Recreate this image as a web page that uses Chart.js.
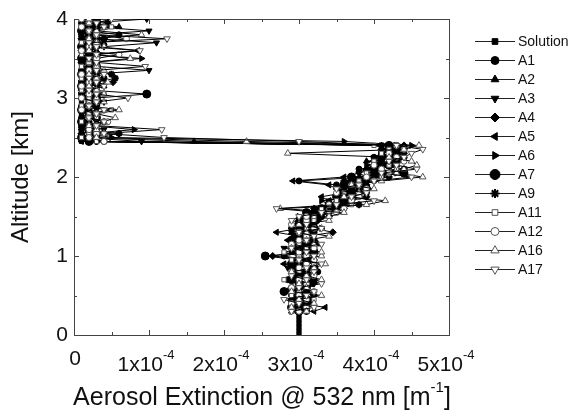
<!DOCTYPE html>
<html>
<head>
<meta charset="utf-8">
<script src="https://cdn.jsdelivr.net/npm/chart.js@4.4.1/dist/chart.umd.min.js"></script>
<style>
  html, body { margin: 0; padding: 0; background: #fff; }
  canvas { display: block; }
</style>
</head>
<body>
<canvas id="profileChart" width="573" height="416"></canvas>
<script>
// altitude levels [km], 50 m apart
const altitudes = [
  0.00, 0.05, 0.10, 0.15, 0.20, 0.25, 0.30, 0.35, 0.40, 0.45,
  0.50, 0.55, 0.60, 0.65, 0.70, 0.75, 0.80, 0.85, 0.90, 0.95,
  1.00, 1.05, 1.10, 1.15, 1.20, 1.25, 1.30, 1.35, 1.40, 1.45,
  1.50, 1.55, 1.60, 1.65, 1.70, 1.75, 1.80, 1.85, 1.90, 1.95,
  2.00, 2.05, 2.10, 2.15, 2.20, 2.25, 2.30, 2.35, 2.40, 2.45,
  2.50, 2.55, 2.60, 2.65, 2.70, 2.75, 2.80, 2.85, 2.90, 2.95,
  3.00, 3.05, 3.10, 3.15, 3.20, 3.25, 3.30, 3.35, 3.40, 3.45,
  3.50, 3.55, 3.60, 3.65, 3.70, 3.75, 3.80, 3.85, 3.90, 3.95,
  4.00,
];

// extinction profiles, in units of 1e-4 m^-1 (retrievals start at 0.30 km)
const solution = [
  3.0, 3.0, 3.0, 3.0, 3.0, 3.0, 3.0, 3.0, 3.0, 3.0,
  3.0, 3.0, 3.0, 3.0, 3.0, 3.0, 3.0, 3.0, 3.0, 3.0,
  3.0, 3.0, 3.0, 3.0, 3.0, 3.0, 3.0, 3.0, 3.0, 3.0,
  3.1, 3.2, 3.3, 3.4, 3.5, 3.6, 3.7, 3.8, 3.85, 3.9,
  4.0, 4.05, 4.1, 4.15, 4.2, 4.2, 4.25, 4.25, 4.3, 0.1,
  0.1, 0.1, 0.1, 0.1, 0.1, 0.1, 0.1, 0.1, 0.1, 0.1,
  0.1, 0.1, 0.1, 0.1, 0.1, 0.1, 0.1, 0.1, 0.1, 0.1,
  0.1, 0.1, 0.1, 0.1, 0.1, 0.1, 0.1, 0.1, 0.1, 0.1,
  0.1,
];
const a1 = [
  null, null, null, null, null, null, 3.1, 2.95, 3.05, 3.0,
  2.9, 3.1, 3.0, 3.15, 2.85, 3.05, 3.25, 2.9, 3.0, 3.1,
  2.8, 3.05, 3.2, 3.0, 3.1, 2.95, 3.15, 3.0, 3.2, 3.1,
  3.3, 3.2, 3.45, 3.4, 3.6, 3.5, 3.55, 3.7, 3.5, 3.0,
  3.9, 4.0, 3.8, 4.2, 4.1, 4.0, 4.3, 4.2, 4.3, 0.3,
  0.2, 0.3, 0.2, 0.1, 0.4, 0.2, 0.3, 0.1, 0.2, 0.3,
  0.2, 0.1, 0.3, 0.2, 0.1, 0.4, 0.2, 0.3, 0.2, 0.1,
  0.3, 0.2, 0.1, 0.3, 0.2, 0.4, 0.6, 0.2, 0.3, 0.1,
  0.2,
];
const a2 = [
  null, null, null, null, null, null, 2.9, 3.1, 3.0, 3.17,
  3.0, 2.85, 3.1, 3.0, 3.2, 2.9, 3.0, 3.1, 2.95, 3.2,
  3.0, 2.9, 3.1, 3.25, 3.0, 3.1, 2.9, 3.2, 3.05, 3.0,
  3.1, 3.4, 3.3, 3.55, 3.5, 3.8, 3.6, 3.7, 3.9, 3.6,
  3.8, 4.1, 4.0, 4.3, 3.9, 4.4, 4.2, 4.35, 4.2, 1.6,
  0.1, 0.2, 0.3, 0.1, 0.2, 0.1, 0.3, 0.2, 0.1, 0.2,
  0.1, 0.3, 0.2, 0.4, 0.1, 0.2, 0.3, 0.1, 0.2, 0.3,
  0.2, 0.1, 0.3, 0.2, 0.4, 0.2, 0.1, 0.3, 0.6, 0.2,
  0.3,
];
const a3 = [
  null, null, null, null, null, null, 3.0, 3.1, 2.9, 3.05,
  3.1, 2.9, 3.0, 3.2, 2.95, 3.0, 3.1, 2.85, 3.0, 3.15,
  3.0, 3.1, 2.8, 3.0, 3.1, 3.2, 2.9, 3.05, 3.15, 3.0,
  3.2, 3.3, 3.2, 3.5, 3.4, 3.6, 3.7, 3.5, 3.6, 3.7,
  3.9, 3.8, 4.0, 4.2, 4.3, 4.0, 4.1, 4.4, 4.3, 0.9,
  0.1, 0.3, 0.4, 0.2, 0.3, 0.2, 0.1, 0.3, 0.2, 0.4,
  0.2, 0.1, 0.3, 0.2, 0.1, 0.3, 0.2, 1.0, 0.3, 0.2,
  0.1, 0.3, 0.2, 0.4, 1.1, 0.3, 0.2, 1.0, 0.3, 0.2,
  0.97,
];
const a4 = [
  null, null, null, null, null, null, 3.1, 3.0, 3.15, 2.95,
  3.2, 3.0, 2.9, 3.1, 3.2, 3.0, 3.1, 2.9, 3.05, 3.2,
  2.65, 3.0, 3.1, 3.0, 3.2, 3.1, 3.45, 3.2, 3.0, 3.25,
  3.4, 3.3, 3.2, 3.6, 3.7, 3.9, 3.6, 3.8, 3.9, 3.6,
  4.1, 4.2, 3.9, 4.0, 4.3, 4.2, 4.4, 4.1, 4.4, 0.3,
  0.2, 0.1, 0.3, 0.2, 0.1, 0.3, 0.2, 0.1, 0.3, 0.2,
  0.2, 0.3, 0.1, 0.2, 0.52, 0.2, 0.1, 0.3, 0.2, 0.1,
  0.3, 0.2, 0.1, 0.2, 0.3, 0.1, 0.2, 0.3, 0.2, 0.45,
  0.2,
];
const a5 = [
  null, null, null, null, null, null, 3.2, 3.35, 3.0, 2.9,
  3.1, 3.0, 2.9, 3.1, 3.0, 2.95, 3.1, 3.0, 2.8, 3.0,
  3.1, 3.0, 2.9, 3.0, 2.85, 3.0, 2.7, 3.0, 3.1, 3.0,
  3.1, 3.2, 3.3, 3.5, 3.4, 3.3, 3.6, 3.5, 3.4, 2.92,
  3.6, 3.8, 3.9, 4.1, 4.0, 4.2, 4.1, 4.3, 4.25, 0.1,
  0.2, 0.1, 0.3, 0.2, 0.1, 0.2, 0.3, 0.1, 0.2, 0.3,
  0.1, 0.2, 0.3, 0.1, 0.2, 0.3, 0.2, 0.1, 0.2, 0.3,
  0.1, 0.2, 0.85, 0.2, 0.3, 0.2, 0.1, 0.2, 0.3, 0.2,
  0.1,
];
const a6 = [
  null, null, null, null, null, null, 2.9, 3.0, 3.1, 3.0,
  2.9, 3.1, 3.0, 3.2, 2.9, 3.1, 3.0, 3.2, 2.9, 3.1,
  3.2, 2.9, 3.1, 3.0, 3.2, 3.1, 3.0, 3.3, 3.1, 3.2,
  3.0, 3.3, 3.6, 3.4, 3.3, 3.8, 3.7, 3.6, 3.8, 3.7,
  4.0, 4.3, 4.1, 3.9, 4.2, 4.4, 4.3, 4.2, 4.5, 3.6,
  0.5, 0.2, 0.8, 0.2, 0.1, 0.3, 0.2, 0.1, 0.3, 0.2,
  0.2, 0.1, 0.2, 0.3, 0.2, 0.1, 0.3, 0.2, 0.1, 0.2,
  0.9, 0.2, 0.1, 0.3, 0.2, 0.4, 0.2, 0.3, 0.1, 0.2,
  0.2,
];
const a7 = [
  null, null, null, null, null, null, 3.0, 2.9, 3.1, 3.0,
  3.0, 2.8, 3.1, 3.0, 2.9, 3.1, 3.0, 3.2, 2.9, 3.0,
  2.55, 3.2, 3.0, 3.1, 2.9, 3.0, 3.1, 3.2, 3.0, 3.1,
  3.2, 3.1, 3.3, 3.4, 3.6, 3.5, 3.7, 3.9, 3.6, 3.8,
  3.7, 4.4, 4.0, 4.2, 4.3, 4.1, 4.3, 4.2, 4.2, 0.2,
  0.1, 0.3, 0.2, 0.2, 0.1, 0.3, 0.2, 0.1, 0.2, 0.3,
  0.3, 0.97, 0.2, 0.1, 0.3, 0.2, 0.1, 0.2, 0.3, 0.2,
  0.1, 0.3, 0.2, 0.1, 0.2, 0.3, 0.2, 0.1, 0.2, 0.3,
  0.3,
];
const a9 = [
  null, null, null, null, null, null, 3.1, 3.0, 2.9, 3.1,
  3.0, 3.0, 2.9, 3.1, 3.0, 3.05, 3.1, 2.95, 3.0, 3.1,
  3.0, 3.1, 3.0, 3.2, 2.9, 3.05, 3.2, 2.9, 3.1, 3.0,
  3.3, 3.2, 3.5, 3.8, 3.6, 3.5, 3.9, 3.7, 3.8, 3.9,
  4.2, 4.0, 4.4, 4.1, 4.0, 4.3, 4.1, 4.4, 4.1, 0.4,
  0.2, 0.6, 0.1, 0.3, 0.2, 0.1, 0.3, 0.2, 0.1, 0.3,
  0.1, 0.3, 0.2, 0.1, 0.3, 0.55, 0.5, 0.1, 0.2, 0.3,
  0.2, 0.3, 0.1, 0.2, 0.3, 0.1, 0.2, 0.3, 0.1, 0.2,
  0.1,
];
const a11 = [
  null, null, null, null, null, null, 2.9, 3.1, 3.0, 3.2,
  2.9, 3.0, 3.1, 3.0, 2.8, 3.1, 3.0, 3.1, 3.2, 2.9,
  3.0, 2.8, 3.1, 3.0, 3.1, 3.2, 3.0, 3.1, 2.9, 3.2,
  3.2, 3.4, 3.3, 3.7, 3.5, 3.8, 3.6, 3.9, 3.7, 3.8,
  4.1, 3.9, 4.3, 4.2, 4.0, 4.3, 4.1, 4.2, 4.0, 0.3,
  0.1, 0.2, 0.3, 0.2, 0.1, 0.3, 0.2, 0.5, 0.1, 0.2,
  0.2, 0.4, 0.1, 0.2, 0.3, 0.1, 0.2, 0.3, 0.1, 0.2,
  0.3, 0.1, 0.2, 0.3, 0.1, 0.2, 0.3, 0.2, 0.5, 0.2,
  0.2,
];
const a12 = [
  null, null, null, null, null, null, 3.0, 3.1, 2.9, 3.1,
  3.0, 3.2, 2.9, 3.1, 3.0, 3.2, 2.9, 3.0, 3.1, 3.2,
  3.1, 3.0, 3.2, 2.9, 3.0, 3.1, 3.0, 3.2, 2.9, 3.1,
  3.1, 3.5, 3.6, 3.4, 3.7, 3.8, 3.5, 3.9, 3.8, 4.0,
  3.9, 4.2, 4.1, 4.0, 4.4, 4.3, 4.2, 4.4, 4.3, 0.4,
  0.2, 0.3, 0.2, 0.3, 0.45, 0.2, 0.3, 0.1, 0.2, 0.3,
  0.1, 0.2, 0.3, 0.1, 0.2, 0.3, 0.1, 0.2, 0.3, 0.2,
  0.3, 0.6, 0.1, 0.2, 0.3, 0.7, 0.3, 0.2, 0.1, 0.2,
  0.1,
];
const a16 = [
  null, null, null, null, null, null, 3.1, 2.9, 3.2, 3.0,
  3.3, 2.9, 3.1, 3.0, 3.3, 3.1, 2.9, 3.2, 3.35, 3.0,
  3.3, 3.3, 2.9, 3.2, 3.1, 3.4, 3.1, 3.3, 3.0, 3.4,
  3.4, 3.6, 2.75, 3.9, 4.15, 3.6, 3.8, 4.0, 3.7, 4.1,
  4.65, 4.3, 4.4, 4.57, 4.5, 4.2, 2.85, 4.4, 4.6, 2.3,
  0.3, 0.4, 0.3, 0.2, 0.4, 0.55, 0.3, 0.6, 0.2, 0.4,
  0.3, 0.4, 0.3, 0.2, 0.45, 0.3, 0.2, 0.4, 0.3, 0.2,
  0.75, 0.3, 0.2, 0.4, 0.3, 0.2, 0.9, 0.3, 0.4, 0.2,
  0.2,
];
const a17 = [
  null, null, null, null, null, null, 2.9, 3.2, 3.0, 2.8,
  3.1, 3.2, 3.0, 3.3, 3.1, 2.9, 3.2, 3.1, 3.3, 3.0,
  3.2, 3.1, 2.9, 3.3, 3.1, 3.2, 3.0, 3.3, 3.1, 2.9,
  3.0, 3.3, 2.7, 3.5, 4.0, 3.7, 3.9, 3.5, 3.8, 4.0,
  4.5, 4.1, 4.57, 4.3, 4.2, 4.4, 4.5, 4.65, 4.3, 3.0,
  1.2, 0.4, 1.17, 0.3, 0.4, 0.2, 0.3, 0.4, 0.2, 0.3,
  0.72, 0.3, 0.2, 0.4, 0.3, 0.2, 0.4, 0.3, 0.95, 0.3,
  0.2, 0.3, 0.88, 0.3, 0.2, 1.24, 0.3, 0.2, 0.4, 0.3,
  0.5,
];

const seriesNames = ['Solution', 'A1', 'A2', 'A3', 'A4', 'A5', 'A6', 'A7', 'A9', 'A11', 'A12', 'A16', 'A17'];
const seriesValues = [solution, a1, a2, a3, a4, a5, a6, a7, a9, a11, a12, a16, a17];
const xTickValues = [0, 1, 2, 3, 4, 5];
const yTickValues = [0, 1, 2, 3, 4];

// marker look per series: [pointStyle, rotation, radius, filled]
const markers = [
  ['rect', 0, 3, true],
  ['circle', 0, 3, true],
  ['triangle', 0, 3.5, true],
  ['triangle', 180, 3.5, true],
  ['rectRot', 0, 3.5, true],
  ['triangle', 270, 3.5, true],
  ['triangle', 90, 3.5, true],
  ['circle', 0, 4, true],
  ['star', 0, 3.5, true],
  ['rect', 0, 3, false],
  ['circle', 0, 3, false],
  ['triangle', 0, 3.8, false],
  ['triangle', 180, 3.8, false],
];

const FONT = "'Liberation Sans', Arial, Helvetica, sans-serif";

// later runs are painted over earlier ones (A17 ends up on top)
const datasets = seriesNames.map((name, i) => {
  const [style, rot, radius, filled] = markers[i];
  return {
    label: name,
    data: altitudes
      .map((h, k) => ({ x: seriesValues[i][k], y: h }))
      .filter(p => p.x !== null),
    showLine: true,
    borderColor: '#000',
    borderWidth: 1,
    pointStyle: style,
    rotation: rot,
    pointRadius: radius,
    pointBorderWidth: style === 'star' ? 2 : 1,
    pointBackgroundColor: filled ? '#000' : '#fff',
    pointBorderColor: filled ? '#000' : '#555',
    order: seriesNames.length - i,
  };
});

// frame with inward major/minor ticks on all four sides
const framePlugin = {
  id: 'frame',
  beforeDatasetsDraw(chart) {
    const { ctx, chartArea: a, scales: { x, y } } = chart;
    ctx.save();
    ctx.strokeStyle = '#444';
    ctx.lineWidth = 1;
    ctx.strokeRect(a.left + 0.5, a.top + 0.5, a.right - a.left, a.bottom - a.top);
    ctx.beginPath();
    for (let v = 0; v <= 5; v += 0.5) {
      const px = Math.round(x.getPixelForValue(v)) + 0.5;
      const len = Number.isInteger(v) ? 5 : 3;
      ctx.moveTo(px, a.bottom); ctx.lineTo(px, a.bottom - len);
      ctx.moveTo(px, a.top); ctx.lineTo(px, a.top + len);
    }
    for (let v = 0; v <= 4; v += 0.5) {
      const py = Math.round(y.getPixelForValue(v)) + 0.5;
      const len = Number.isInteger(v) ? 5 : 3;
      ctx.moveTo(a.left, py); ctx.lineTo(a.left + len, py);
      ctx.moveTo(a.right, py); ctx.lineTo(a.right - len, py);
    }
    ctx.stroke();
    ctx.restore();
  },
};

// draws "base" followed by a raised "sup", centred at cx
function drawSupText(ctx, base, sup, cx, baseline, size, supSize, supRise) {
  ctx.font = `${size}px ${FONT}`;
  const wb = ctx.measureText(base).width;
  ctx.font = `${supSize}px ${FONT}`;
  const ws = ctx.measureText(sup).width;
  const start = cx - (wb + ws) / 2;
  ctx.font = `${size}px ${FONT}`;
  ctx.fillText(base, start, baseline);
  ctx.font = `${supSize}px ${FONT}`;
  ctx.fillText(sup, start + wb, baseline - supRise);
}

const labelsPlugin = {
  id: 'xLabels',
  afterDraw(chart) {
    const { ctx, scales: { x } } = chart;
    ctx.save();
    ctx.fillStyle = '#111';
    ctx.textAlign = 'left';
    ctx.textBaseline = 'alphabetic';
    xTickValues.forEach(v => {
      const px = x.getPixelForValue(v);
      if (v === 0) {
        ctx.font = `21px ${FONT}`;
        ctx.textAlign = 'center';
        ctx.fillText('0', px + 1, 365);
        ctx.textAlign = 'left';
      } else {
        drawSupText(ctx, `${v}x10`, '-4', px - 3, 371, 21, 13, 12);
      }
    });
    // axis title with superscript unit
    const titleBase = 'Aerosol Extinction @ 532 nm [m';
    ctx.font = `25px ${FONT}`;
    const wb = ctx.measureText(titleBase).width;
    ctx.font = `15px ${FONT}`;
    const ws = ctx.measureText('-1').width;
    ctx.font = `25px ${FONT}`;
    const wc = ctx.measureText(']').width;
    const sx = 262 - (wb + ws + wc) / 2;
    ctx.fillText(titleBase, sx, 405);
    ctx.font = `15px ${FONT}`;
    ctx.fillText('-1', sx + wb, 392);
    ctx.font = `25px ${FONT}`;
    ctx.fillText(']', sx + wb + ws, 405);
    ctx.restore();
  },
};

// legend: short line with the series marker, then its name
const legendPlugin = {
  id: 'sideLegend',
  afterDraw(chart) {
    const { ctx } = chart;
    ctx.save();
    chart.data.datasets.forEach((ds, i) => {
      const yy = 41.5 + i * 19;
      ctx.strokeStyle = '#222';
      ctx.lineWidth = 1;
      ctx.beginPath();
      ctx.moveTo(475, yy);
      ctx.lineTo(515, yy);
      ctx.stroke();
      ctx.fillStyle = ds.pointBackgroundColor;
      ctx.strokeStyle = ds.pointBorderColor;
      ctx.lineWidth = ds.pointBorderWidth;
      Chart.helpers.drawPoint(ctx, {
        pointStyle: ds.pointStyle,
        rotation: ds.rotation,
        radius: ds.pointRadius + 1,
        borderWidth: ds.pointBorderWidth,
      }, 495, yy);
      ctx.fillStyle = '#111';
      ctx.font = `14px ${FONT}`;
      ctx.textBaseline = 'middle';
      ctx.fillText(ds.label, 518, yy + 1);
    });
    ctx.restore();
  },
};

new Chart(document.getElementById('profileChart'), {
  type: 'scatter',
  data: { datasets },
  options: {
    responsive: false,
    animation: false,
    devicePixelRatio: 1,
    layout: { padding: { top: 19, right: 124, left: 0, bottom: 0 } },
    plugins: {
      legend: { display: false },
      tooltip: { enabled: false },
    },
    scales: {
      x: {
        type: 'linear',
        min: 0,
        max: 5,
        afterFit: scale => { scale.height = 81; },
        ticks: { display: false, stepSize: 1 },
        grid: { display: false, drawTicks: false },
        border: { display: false },
      },
      y: {
        type: 'linear',
        min: 0,
        max: 4,
        afterFit: scale => { scale.width = 74; },
        afterBuildTicks: scale => { scale.ticks = yTickValues.map(v => ({ value: v })); },
        ticks: {
          font: { family: FONT, size: 21 },
          color: '#111',
          padding: 6,
        },
        grid: { display: false, drawTicks: false },
        border: { display: false },
        title: {
          display: true,
          text: 'Altitude [km]',
          font: { family: FONT, size: 24 },
          color: '#111',
          padding: { top: 7, bottom: 0 },
        },
      },
    },
  },
  plugins: [framePlugin, labelsPlugin, legendPlugin],
});
</script>
</body>
</html>
